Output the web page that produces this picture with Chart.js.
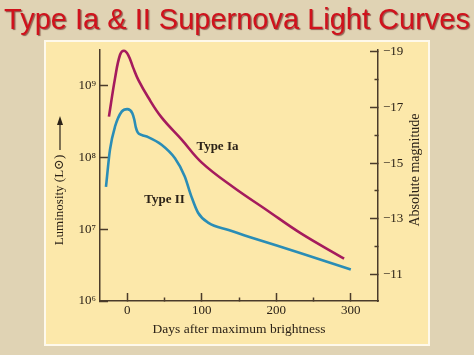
<!DOCTYPE html>
<html><head><meta charset="utf-8">
<script src="https://cdn.jsdelivr.net/npm/chart.js@4"></script>
<style>html,body{margin:0;padding:0;background:#e0d3b4;}canvas{display:block;}</style>
</head><body>
<canvas id="c" width="474" height="355"></canvas>
<script>
// ---- text ----
const titleText = 'Type Ia & II Supernova Light Curves';
const xTitle = 'Days after maximum brightness';
const yTitle = 'Luminosity (L\u2299)';
const y2Title = 'Absolute magnitude';
const seriesNames = ['Type Ia', 'Type II'];

// ---- data (days after maximum, luminosity in solar units) ----
const typeIaDays = [-24.6, -16.5, -9.8, -4.5, 1.3, 8, 15, 28, 46, 73, 100, 142, 187, 232, 291];
const typeIaLum  = [3.72e8, 1.26e9, 2.69e9, 3.09e9, 2.69e9, 1.78e9, 1.20e9, 6.92e8, 3.63e8, 1.78e8, 8.51e7, 3.89e7, 1.86e7, 8.91e6, 3.89e6];
const typeIIDays = [-28.6, -23.2, -16.5, -7.5, 0, 6.7, 9.4, 11.5, 14, 19, 28, 46, 64, 77, 86, 95, 109, 136, 165, 232, 300];
const typeIILum  = [3.89e7, 1.29e8, 2.69e8, 4.37e8, 4.73e8, 4.17e8, 3.39e8, 2.63e8, 2.24e8, 2.07e8, 1.93e8, 1.51e8, 9.77e7, 5.50e7, 2.88e7, 1.70e7, 1.23e7, 9.77e6, 7.76e6, 4.68e6, 2.75e6];

// ---- ticks ----
const dayTicks = [0, 50, 100, 150, 200, 250, 300];
const dayTickLabels = ['0', '', '100', '', '200', '', '300'];
const lumTicks = [1e6, 1e7, 1e8, 1e9];
const lumTickLabels = ['10\u2076', '10\u2077', '10\u2078', '10\u2079'];
const magTicks = [-19, -18, -17, -16, -15, -14, -13, -12, -11];
const magTickLabels = ['\u221219', '', '\u221217', '', '\u221215', '', '\u221213', '', '\u221211'];

// label anchor points in data units
const seriesLabelAt = [[121, 1.42e8], [50, 2.57e7]];

const serif = "'Liberation Serif', 'DejaVu Serif', 'Times New Roman', serif";
const ink = '#2b2218';
const axisColor = '#4a3b2a';

const decor = {
  id: 'decor',
  beforeDraw(chart) {
    const {ctx, width, height, chartArea: ca} = chart;
    ctx.save();
    ctx.fillStyle = '#e0d3b4';
    ctx.fillRect(0, 0, width, height);
    const px = ca.left - 54, py = ca.top - 8, pw = ca.right + 50 - px, ph = ca.bottom + 43 - py;
    ctx.strokeStyle = 'rgba(255,251,238,0.95)';
    ctx.lineWidth = 2;
    ctx.strokeRect(px - 1, py - 1, pw + 2, ph + 2);
    ctx.fillStyle = '#fce8aa';
    ctx.fillRect(px, py, pw, ph);
    ctx.restore();
    const t = chart.titleBlock;
    if (t && !t.__wrapped) {
      const orig = t.draw;
      t.draw = function () {
        const c = this.ctx;
        c.save();
        c.shadowColor = 'rgba(80,0,0,0.55)';
        c.shadowOffsetX = 1.2; c.shadowOffsetY = 1.2; c.shadowBlur = 1;
        orig.apply(this, arguments);
        c.restore();
      };
      t.__wrapped = true;
    }
  },
  afterDatasetsDraw(chart) {
    const {ctx} = chart;
    const xs = chart.scales.x, ys = chart.scales.y;
    ctx.save();
    ctx.fillStyle = ink;
    ctx.font = 'bold 13px ' + serif;
    ctx.textAlign = 'center'; ctx.textBaseline = 'middle';
    seriesNames.forEach((n, i) => {
      ctx.fillText(n, xs.getPixelForValue(seriesLabelAt[i][0]), ys.getPixelForValue(seriesLabelAt[i][1]));
    });
    ctx.restore();
  },
  afterDraw(chart) {
    const {ctx, chartArea: ca} = chart;
    ctx.save();
    ctx.fillStyle = ink;
    ctx.textAlign = 'center'; ctx.textBaseline = 'middle';
    ctx.font = '13.5px ' + serif;
    ctx.fillText(xTitle, (ca.left + ca.right) / 2, ca.bottom + 28);
    // left title
    ctx.save();
    ctx.translate(ca.left - 40, ca.top + 150);
    ctx.rotate(-Math.PI / 2);
    ctx.font = '13px ' + serif;
    ctx.fillText(yTitle, 0, 0);
    ctx.restore();
    // arrow
    const ax = ca.left - 40;
    ctx.strokeStyle = ink; ctx.lineWidth = 1.2;
    ctx.beginPath(); ctx.moveTo(ax, ca.top + 100); ctx.lineTo(ax, ca.top + 72); ctx.stroke();
    ctx.beginPath(); ctx.moveTo(ax, ca.top + 66); ctx.lineTo(ax - 3, ca.top + 75); ctx.lineTo(ax + 3, ca.top + 75); ctx.closePath(); ctx.fill();
    // right title
    ctx.save();
    ctx.translate(ca.right + 37, ca.top + 120);
    ctx.rotate(-Math.PI / 2);
    ctx.font = '14px ' + serif;
    ctx.fillText(y2Title, 0, 0);
    ctx.restore();
    ctx.restore();
  }
};

const tickFont = {family: serif, size: 13};
const minorDash = (labels, ticks) => (c) => (labels[ticks.indexOf(c.tick.value)] ? [] : [4, 30]);

new Chart(document.getElementById('c'), {
  type: 'line',
  data: {
    datasets: [
      {label: seriesNames[0], data: typeIaDays.map((d, i) => ({x: d, y: typeIaLum[i]})),
       borderColor: '#a51b5d', borderWidth: 2.6, pointRadius: 0, tension: 0.4, fill: false, clip: false},
      {label: seriesNames[1], data: typeIIDays.map((d, i) => ({x: d, y: typeIILum[i]})),
       borderColor: '#2a8db6', borderWidth: 2.6, pointRadius: 0, cubicInterpolationMode: 'monotone', fill: false, clip: false}
    ]
  },
  options: {
    responsive: false, animation: false, devicePixelRatio: 1,
    layout: {padding: 0},
    plugins: {
      legend: {display: false}, tooltip: {enabled: false},
      title: {display: true, text: titleText, color: '#d0121c',
              font: {family: "'Liberation Sans', Arial, sans-serif", size: 29, weight: 'normal', lineHeight: 34 / 29},
              padding: {top: 4, bottom: 12}}
    },
    scales: {
      x: {
        type: 'linear', position: 'bottom', min: -36.6, max: 336.5,
        afterBuildTicks: s => { s.ticks = dayTicks.map(v => ({value: v})); },
        afterFit: s => { s.height = 54; },
        ticks: {autoSkip: false, maxRotation: 0, padding: 10, color: ink, font: tickFont,
                callback: v => dayTickLabels[dayTicks.indexOf(v)] || ''},
        grid: {drawOnChartArea: false, tickLength: -8, tickColor: axisColor, tickWidth: 1.5,
               tickBorderDash: minorDash(dayTickLabels, dayTicks)},
        border: {color: axisColor, width: 1.5}
      },
      y: {
        type: 'logarithmic', position: 'left', min: 1e6, max: 3.16e9,
        afterBuildTicks: s => { s.ticks = lumTicks.map(v => ({value: v})); },
        afterFit: s => { s.width = 100; },
        ticks: {autoSkip: false, padding: 12, color: ink, font: tickFont,
                callback: v => lumTickLabels[lumTicks.indexOf(v)] || ''},
        grid: {drawOnChartArea: false, tickLength: -8, tickColor: axisColor, tickWidth: 1.5},
        border: {color: axisColor, width: 1.5}
      },
      y2: {
        type: 'linear', position: 'right', min: -19.07, max: -10.04, reverse: true,
        afterBuildTicks: s => { s.ticks = magTicks.map(v => ({value: v})); },
        afterFit: s => { s.width = 96; },
        ticks: {autoSkip: false, padding: 13, color: ink, font: tickFont,
                callback: v => magTickLabels[magTicks.indexOf(v)] || ''},
        grid: {drawOnChartArea: false, tickLength: -8, tickColor: axisColor, tickWidth: 1.5,
               tickBorderDash: minorDash(magTickLabels, magTicks)},
        border: {color: axisColor, width: 1.5}
      }
    }
  },
  plugins: [decor]
});
</script>
</body></html>
